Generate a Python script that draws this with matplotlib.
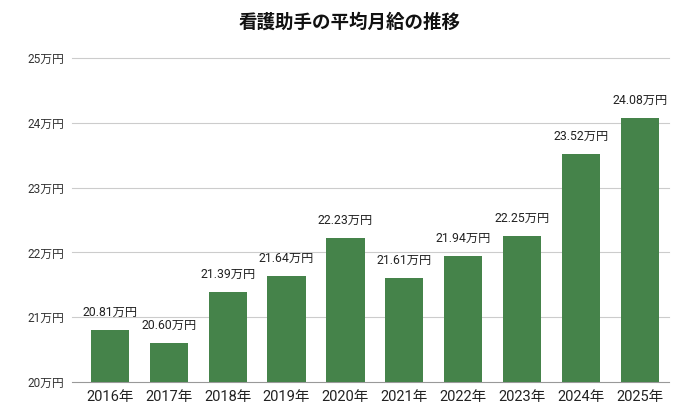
import matplotlib
matplotlib.use("Agg")
import matplotlib.pyplot as plt

plt.rcParams['font.family'] = ['Roboto', 'Noto Sans CJK JP', 'DejaVu Sans']

years = ["2016年", "2017年", "2018年", "2019年", "2020年", "2021年", "2022年", "2023年", "2024年", "2025年"]
values = [20.81, 20.60, 21.39, 21.64, 22.23, 21.61, 21.94, 22.25, 23.52, 24.08]
yticks = [20, 21, 22, 23, 24, 25]
ytick_labels = ["20万円", "21万円", "22万円", "23万円", "24万円", "25万円"]
title = "看護助手の平均月給の推移"

fig = plt.figure(figsize=(7, 4.11), dpi=100)
ax = fig.add_axes([0.115, 0.0706, 0.841, 0.788])

x = range(len(years))
ax.bar(x, values, width=0.65, color="#45834a", zorder=3)
for xi, v in zip(x, values):
    ax.text(xi, v + 0.17, f"{v:.2f}万円", ha="center", va="bottom", fontsize=8.8, color="#222222")

ax.set_ylim(20, 25)
ax.set_xlim(-0.5, len(years) - 0.5)
ax.set_yticks(yticks)
ax.set_yticklabels(ytick_labels, fontsize=8.5, color="#333333")
ax.set_xticks(list(x))
ax.set_xticklabels(years, fontsize=10.5, color="#222222")
ax.tick_params(axis="y", length=0, pad=12)
ax.tick_params(axis="x", length=0, pad=6)
for y in yticks:
    ax.plot([-0.014, 1], [y, y], transform=ax.get_yaxis_transform(), clip_on=False,
            color="#cccccc" if y != 20 else "#999999", linewidth=0.8, zorder=0)
for s in ax.spines.values():
    s.set_visible(False)

fig.text(0.5, 0.945, title, ha="center", va="center", fontsize=13.3, fontweight="bold",
         family=['Noto Sans CJK JP', 'DejaVu Sans'], color="#111111")

fig.savefig("out.png", dpi=100)
